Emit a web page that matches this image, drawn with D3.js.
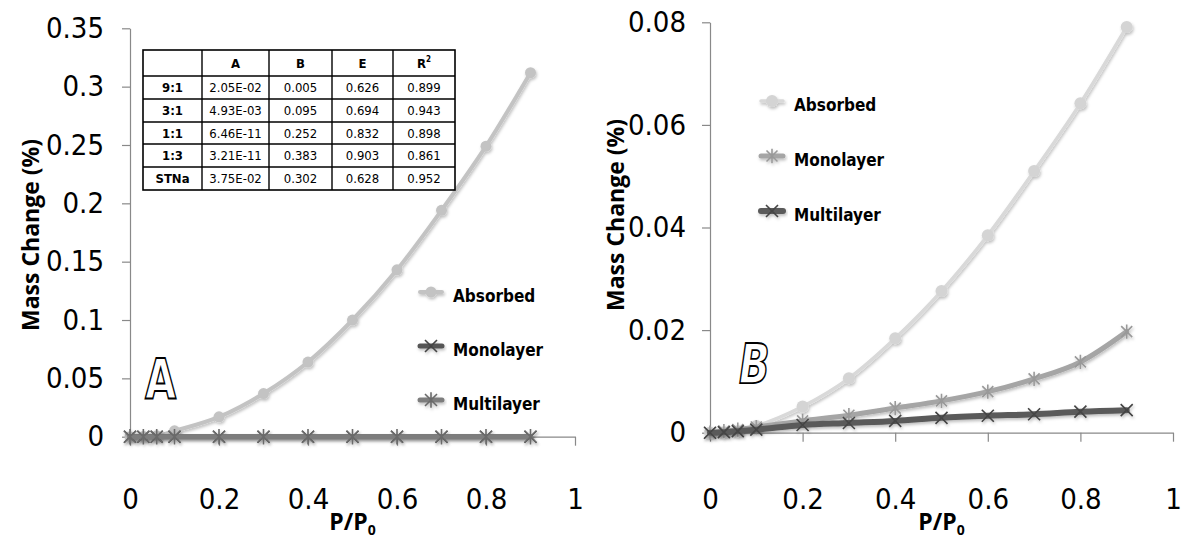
<!DOCTYPE html>
<html>
<head>
<meta charset="utf-8">
<style>
body { margin: 0; background: #fff; }
svg { display: block; }
.tick text { font-family: "Liberation Sans Narrow", "DejaVu Sans Condensed", sans-serif; font-size: 29px; fill: #000; }
.axis path, .axis line { stroke: #898989; stroke-width: 1.2; }
.title { font-family: "Open Sans", sans-serif; font-weight: bold; font-size: 23px; fill: #000; }
.legend text { font-family: "Liberation Sans Narrow", "DejaVu Sans Condensed", sans-serif; font-weight: bold; font-size: 17px; fill: #000; }
.tbl text { font-family: "Liberation Sans Narrow", "DejaVu Sans Condensed", sans-serif; font-size: 13px; fill: #000; }
</style>
</head>
<body>
<svg width="1185" height="542"></svg>
<script src="https://d3js.org/d3.v7.min.js"></script>
<script>
// P/P0 values shared by both panels
var pressure = [0, 0.03, 0.06, 0.1, 0.2, 0.3, 0.4, 0.5, 0.6, 0.7, 0.8, 0.9];

// panel A
var absorbedA   = [0, 0.0002, 0.0008, 0.005, 0.017, 0.037, 0.064, 0.100, 0.143, 0.194, 0.249, 0.312];
var monolayerA  = [0, 0, 0, 0, 0, 0, 0, 0, 0, 0, 0, 0];
var multilayerA = [0, 0, 0, 0, 0, 0, 0, 0, 0, 0, 0, 0];
var yTicksA = [0, 0.05, 0.1, 0.15, 0.2, 0.25, 0.3, 0.35];

// panel B
var absorbedB   = [0, 0.0001, 0.0003, 0.0013, 0.0051, 0.0106, 0.0184, 0.0276, 0.0385, 0.0510, 0.0642, 0.0791];
var monolayerB  = [0, 0.0003, 0.0006, 0.0011, 0.0023, 0.0034, 0.0048, 0.0062, 0.0080, 0.0105, 0.0138, 0.0197];
var multilayerB = [0, 0.0001, 0.0003, 0.0006, 0.0015, 0.0019, 0.0023, 0.0029, 0.0033, 0.0036, 0.0041, 0.0044];
var yTicksB = [0, 0.02, 0.04, 0.06, 0.08];

var xTicks = [0, 0.2, 0.4, 0.6, 0.8, 1];

// fit table
var tblHead = ["", "A", "B", "E", "R"];
var tblRows = ["9:1", "3:1", "1:1", "1:3", "STNa"];
var tblA  = ["2.05E-02", "4.93E-03", "6.46E-11", "3.21E-11", "3.75E-02"];
var tblB  = ["0.005", "0.095", "0.252", "0.383", "0.302"];
var tblE  = ["0.626", "0.694", "0.832", "0.903", "0.628"];
var tblR2 = ["0.899", "0.943", "0.898", "0.861", "0.952"];

var svg = d3.select("svg");

// soft shadow like the office chart
var defs = svg.append("defs");
defs.append("filter").attr("id", "shadow")
    .attr("x", "-20%").attr("y", "-20%").attr("width", "140%").attr("height", "160%")
  .append("feDropShadow")
    .attr("dx", 1).attr("dy", 2).attr("stdDeviation", 1.5)
    .attr("flood-color", "#000").attr("flood-opacity", 0.25);

function marker(g, kind, cx, cy, color, s) {
  if (kind == "circle") {
    g.append("circle").attr("cx", cx).attr("cy", cy).attr("r", s).attr("fill", color);
    return;
  }
  var d = "M" + (cx - s) + "," + (cy - s) + "L" + (cx + s) + "," + (cy + s) +
          "M" + (cx - s) + "," + (cy + s) + "L" + (cx + s) + "," + (cy - s);
  if (kind == "star") d += "M" + cx + "," + (cy - s * 1.3) + "L" + cx + "," + (cy + s * 1.3);
  g.append("path").attr("d", d).attr("stroke", color).attr("stroke-width", 1.6).attr("fill", "none");
}

function panel(cfg) {
  var x = d3.scaleLinear().domain([0, 1]).range(cfg.xr);
  var y = d3.scaleLinear().domain([0, cfg.ymax]).range(cfg.yr);

  svg.append("g").attr("class", "axis")
      .attr("transform", "translate(" + cfg.xr[0] + ",0)")
      .call(d3.axisLeft(y).tickValues(cfg.yTicks).tickSize(8).tickSizeOuter(0)
              .tickPadding(cfg.yPad).tickFormat(function(d) { return String(d); }));

  svg.append("g").attr("class", "axis")
      .attr("transform", "translate(0," + cfg.yr[0] + ")")
      .call(d3.axisBottom(x).tickValues(xTicks).tickSize(9).tickSizeOuter(0)
              .tickPadding(cfg.xPad).tickFormat(function(d) { return String(d); }));

  var line = d3.line()
      .x(function(d, i) { return x(pressure[i]); })
      .y(function(d) { return y(d); })
      .curve(d3.curveMonotoneX);

  cfg.series.forEach(function(s) {
    var g = svg.append("g").attr("filter", "url(#shadow)");
    g.append("path").datum(s.values)
        .attr("d", line).attr("fill", "none")
        .attr("stroke", s.color).attr("stroke-width", s.width)
        .attr("stroke-linecap", "round");
    s.values.forEach(function(v, i) {
      marker(g, s.kind, x(pressure[i]), y(v), s.mcolor, s.size);
    });
  });

  // legend
  var lg = svg.append("g").attr("class", "legend");
  cfg.legend.forEach(function(s, i) {
    var ly = cfg.legY + i * cfg.legStep;
    var gi = lg.append("g").attr("filter", "url(#shadow)");
    gi.append("line").attr("x1", cfg.legX - 11).attr("x2", cfg.legX + 11)
        .attr("y1", ly).attr("y2", ly)
        .attr("stroke", s.color).attr("stroke-width", s.width).attr("stroke-linecap", "round");
    marker(gi, s.kind, cfg.legX, ly, s.mcolor, s.size);
    lg.append("text").attr("x", cfg.legX + 22).attr("y", ly + 8 + cfg.legTextDy)
        .text(s.name);
  });

  // panel letter, tall and narrow outline
  svg.append("text")
      .attr("transform", "translate(" + cfg.letter[0] + "," + cfg.letter[1] + ") scale(0.72,1)")
      .attr("font-family", "DejaVu Sans, sans-serif")
      .attr("font-weight", "bold")
      .attr("font-style", cfg.letterStyle)
      .attr("font-size", 56)
      .attr("fill", "#fff").attr("stroke", "#000").attr("stroke-width", 1.8)
      .text(cfg.letterText);

  // axis titles
  svg.append("text").attr("class", "title")
      .attr("transform", "translate(" + cfg.yTitle[0] + "," + cfg.yTitle[1] + ") rotate(-90)")
      .attr("text-anchor", "middle").attr("dy", "0.35em")
      .text("Mass Change (%)");

  var xt = svg.append("text").attr("class", "title")
      .attr("x", (cfg.xr[0] + cfg.xr[1]) / 2).attr("y", 530)
      .attr("text-anchor", "middle");
  xt.append("tspan").text("P/P");
  xt.append("tspan").attr("font-size", 14).attr("dy", 5).text("0");
}

var absA = { name: "Absorbed", values: absorbedA, color: "#c3c3c3", mcolor: "#c3c3c3", width: 4, kind: "circle", size: 5.5 };
var monA = { name: "Monolayer", values: monolayerA, color: "#555555", mcolor: "#444", width: 5, kind: "x", size: 6 };
var mulA = { name: "Multilayer", values: multilayerA, color: "#7d7d7d", mcolor: "#6a6a6a", width: 5, kind: "star", size: 6 };

panel({
  xr: [130, 575], yr: [436.7, 28.3], ymax: 0.35, yTicks: yTicksA,
  yPad: 18, xPad: 43,
  series: [absA, monA, mulA],
  legend: [absA, monA, mulA],
  legX: 431, legY: 292, legStep: 54, legTextDy: 2,
  letter: [145, 398], letterStyle: "normal", letterText: "A",
  yTitle: [31, 235]
});

var absB = { name: "Absorbed", values: absorbedB, color: "#d9d9d9", mcolor: "#d4d4d4", width: 3.5, kind: "circle", size: 6 };
var monB = { name: "Monolayer", values: monolayerB, color: "#a5a5a5", mcolor: "#999", width: 5, kind: "star", size: 5.5 };
var mulB = { name: "Multilayer", values: multilayerB, color: "#5a5a5a", mcolor: "#444", width: 6, kind: "x", size: 6 };

panel({
  xr: [710, 1173], yr: [432.7, 22.3], ymax: 0.08, yTicks: yTicksB,
  yPad: 16, xPad: 47,
  series: [absB, monB, mulB],
  legend: [absB, monB, mulB],
  legX: 772, legY: 101, legStep: 55, legTextDy: 2,
  letter: [739, 383], letterStyle: "italic", letterText: "B",
  yTitle: [616, 215]
});

// fit parameter table
var colX = [143, 202, 269, 332, 393, 455];
var rowY = [50, 76, 99, 122, 144, 167, 190];
var tbl = svg.append("g").attr("class", "tbl");
tbl.append("rect").attr("x", colX[0]).attr("y", rowY[0])
    .attr("width", colX[5] - colX[0]).attr("height", rowY[6] - rowY[0])
    .attr("fill", "#fff").attr("stroke", "#000").attr("stroke-width", 1.6);
colX.slice(1, 5).forEach(function(cx) {
  tbl.append("line").attr("x1", cx).attr("x2", cx).attr("y1", rowY[0]).attr("y2", rowY[6])
      .attr("stroke", "#000").attr("stroke-width", 1.4);
});
rowY.slice(1, 6).forEach(function(ry) {
  tbl.append("line").attr("x1", colX[0]).attr("x2", colX[5]).attr("y1", ry).attr("y2", ry)
      .attr("stroke", "#000").attr("stroke-width", 1.4);
});
function cell(ci, ri, txt, bold) {
  return tbl.append("text")
      .attr("x", (colX[ci] + colX[ci + 1]) / 2)
      .attr("y", (rowY[ri] + rowY[ri + 1]) / 2)
      .attr("dy", "0.36em")
      .attr("text-anchor", "middle")
      .attr("font-weight", bold ? "bold" : "normal")
      .text(txt);
}
tblHead.forEach(function(h, i) {
  if (!h) return;
  var t = cell(i, 0, h, true);
  if (h == "R") t.append("tspan").attr("font-size", 8).attr("dy", -6).text("2");
});
tblRows.forEach(function(r, i) {
  cell(0, i + 1, r, true);
  cell(1, i + 1, tblA[i]);
  cell(2, i + 1, tblB[i]);
  cell(3, i + 1, tblE[i]);
  cell(4, i + 1, tblR2[i]);
});
</script>
</body>
</html>
